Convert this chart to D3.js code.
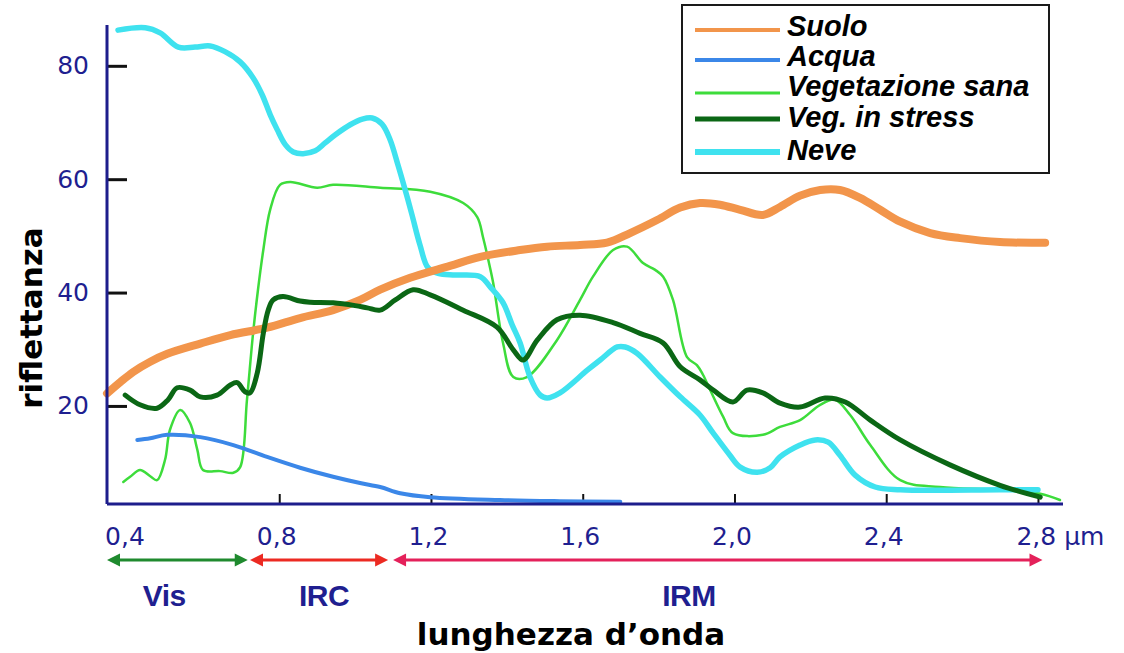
<!DOCTYPE html>
<html>
<head>
<meta charset="utf-8">
<script src="https://cdn.jsdelivr.net/npm/d3@7"></script>
<style>
  body { margin: 0; background: #fff; }
</style>
</head>
<body>
<div id="chart"></div>
<script>
// DATA  (wavelength in µm, reflectance in %)
var suolo = [
  [0.346, 22.2], [0.381, 24.2], [0.415, 26.0], [0.460, 27.8], [0.505, 29.2], [0.592, 31.0],
  [0.671, 32.5], [0.768, 33.8], [0.855, 35.5], [0.942, 36.9], [1.013, 38.7], [1.066, 40.5],
  [1.145, 42.6], [1.250, 44.7], [1.330, 46.3], [1.435, 47.5], [1.506, 48.1], [1.593, 48.4],
  [1.664, 48.8], [1.725, 50.5], [1.796, 52.8], [1.857, 55.0], [1.909, 55.8], [1.962, 55.5],
  [2.015, 54.6], [2.075, 53.7], [2.120, 55.1], [2.173, 57.1], [2.226, 58.1], [2.278, 58.1],
  [2.331, 56.7], [2.384, 54.6], [2.437, 52.5], [2.516, 50.5], [2.595, 49.6], [2.700, 48.9],
  [2.819, 48.8]
];

var acqua = [
  [0.426, 14.0], [0.460, 14.3], [0.505, 14.9], [0.592, 14.5], [0.679, 13.1], [0.768, 11.0],
  [0.855, 9.1], [0.942, 7.5], [1.013, 6.4], [1.066, 5.7], [1.119, 4.6], [1.198, 3.9],
  [1.382, 3.4], [1.540, 3.2], [1.699, 3.1]
];

var vegSana = [
  [0.389, 6.6], [0.407, 7.5], [0.433, 8.7], [0.460, 7.6], [0.478, 6.9], [0.499, 10.5],
  [0.512, 15.8], [0.539, 19.3], [0.565, 17.0], [0.584, 12.3], [0.599, 8.7], [0.644, 8.5],
  [0.679, 8.2], [0.697, 9.2], [0.715, 21.1], [0.731, 32.8], [0.744, 40.5], [0.758, 47.5],
  [0.776, 54.6], [0.802, 59.0], [0.829, 59.5], [0.900, 58.5], [0.942, 59.0], [1.066, 58.5],
  [1.198, 57.8], [1.285, 55.8], [1.322, 53.3], [1.337, 49.8], [1.351, 45.8], [1.364, 41.7],
  [1.390, 31.1], [1.417, 25.1], [1.453, 25.1], [1.532, 31.6], [1.593, 38.7], [1.627, 42.8],
  [1.680, 47.5], [1.717, 48.1], [1.759, 45.2], [1.791, 44.0], [1.812, 42.8], [1.838, 38.7],
  [1.875, 28.6], [1.901, 27.2], [1.917, 25.5], [1.936, 22.8], [1.970, 18.1], [1.996, 15.2],
  [2.075, 14.9], [2.120, 16.3], [2.173, 17.5], [2.226, 20.2], [2.265, 21.1], [2.305, 18.4],
  [2.358, 13.1], [2.437, 6.9], [2.542, 5.7], [2.700, 5.2], [2.806, 4.5], [2.858, 3.4]
];

var vegStress = [
  [0.394, 21.9], [0.433, 20.2], [0.478, 19.6], [0.507, 21.1], [0.531, 23.2], [0.565, 22.8],
  [0.592, 21.6], [0.636, 21.9], [0.671, 23.7], [0.689, 24.1], [0.710, 22.5], [0.723, 22.3],
  [0.742, 25.8], [0.758, 32.8], [0.771, 36.9], [0.784, 38.7], [0.810, 39.3], [0.855, 38.5],
  [0.882, 38.3], [0.942, 38.2], [1.000, 37.7], [1.032, 37.3], [1.066, 36.9], [1.106, 38.7],
  [1.153, 40.5], [1.198, 39.6], [1.285, 36.9], [1.374, 33.9], [1.417, 29.9], [1.443, 28.1],
  [1.480, 31.6], [1.532, 35.2], [1.593, 36.0], [1.680, 34.7], [1.751, 32.8], [1.812, 31.1],
  [1.857, 26.9], [1.909, 24.6], [1.944, 22.8], [1.996, 20.7], [2.033, 22.8], [2.075, 22.3],
  [2.120, 20.5], [2.173, 19.8], [2.239, 21.4], [2.292, 20.7], [2.358, 17.5], [2.437, 14.0],
  [2.568, 9.6], [2.700, 6.0], [2.806, 3.9]
];

var neve = [
  [0.375, 86.3], [0.447, 86.7], [0.486, 85.8], [0.534, 83.3], [0.578, 83.3], [0.618, 83.5],
  [0.657, 82.5], [0.697, 80.7], [0.731, 77.9], [0.755, 74.9], [0.776, 71.4], [0.795, 68.7],
  [0.816, 66.1], [0.837, 64.8], [0.863, 64.5], [0.895, 65.0], [0.921, 66.4], [0.947, 67.8],
  [0.987, 69.6], [1.019, 70.6], [1.045, 70.8], [1.071, 69.7], [1.092, 67.0], [1.113, 62.5],
  [1.132, 58.1], [1.150, 53.7], [1.171, 48.4], [1.192, 44.4], [1.219, 43.4], [1.264, 43.1],
  [1.330, 42.8], [1.356, 41.0], [1.390, 38.2], [1.414, 34.3], [1.435, 31.1], [1.461, 25.1],
  [1.488, 21.9], [1.506, 21.4], [1.540, 22.3], [1.612, 26.3], [1.646, 28.1], [1.691, 30.4],
  [1.712, 30.4], [1.743, 29.3], [1.804, 25.1], [1.857, 21.6], [1.909, 18.4], [1.944, 15.2],
  [1.988, 11.3], [2.015, 9.2], [2.060, 8.3], [2.094, 9.1], [2.120, 11.0], [2.173, 13.1],
  [2.213, 14.0], [2.247, 13.6], [2.278, 11.3], [2.318, 7.8], [2.371, 5.7], [2.437, 5.2],
  [2.700, 5.2], [2.800, 5.2]
];

var xTickValues = [ 0.4, 0.8, 1.2, 1.6, 2.0, 2.4, 2.8 ];
var yTickValues = [ 20, 40, 60, 80 ];

var bandNames = [ 'Vis', 'IRC', 'IRM' ];
var bandFrom = [ 0.346, 0.723, 1.100 ];
var bandTo = [ 0.717, 1.087, 2.812 ];
var bandLabelAt = [ 0.497, 0.918, 1.880 ];

var legendNames = [ 'Suolo', 'Acqua', 'Vegetazione sana', 'Veg. in stress', 'Neve' ];

// STYLE
var width = 1124;
var height = 653;
var axisColor = '#1d1d8c';
var textBlue = '#1f1f90';

var series = [
  { name: 'Vegetazione sana', values: vegSana, color: '#3ddc3b', stroke: 2.5, legendStroke: 3 },
  { name: 'Acqua', values: acqua, color: '#3b87e8', stroke: 4, legendStroke: 4 },
  { name: 'Neve', values: neve, color: '#3fe2ef', stroke: 5.5, legendStroke: 6 },
  { name: 'Suolo', values: suolo, color: '#f2954b', stroke: 8, legendStroke: 4 },
  { name: 'Veg. in stress', values: vegStress, color: '#0b6715', stroke: 5, legendStroke: 5 }
];

var bandColors = [ '#1f8a2e', '#ec2a22', '#e4215a' ];

var svg = d3.select('#chart')
  .append('svg')
  .attr('width', width)
  .attr('height', height)
  .style('background', '#fff');

var x = d3.scaleLinear().domain([ 0.346, 2.866 ]).range([ 107, 1063 ]);
var y = d3.scaleLinear().domain([ 2.7, 87.2 ]).range([ 504, 25 ]);

var itFormat = d3.formatLocale({ decimal: ',', thousands: '.', grouping: [ 3 ], currency: [ '', '€' ] }).format('.1f');

// axes
var xAxis = svg.append('g')
  .attr('transform', 'translate(0,504)')
  .call(d3.axisBottom(x)
    .tickValues(xTickValues)
    .tickSizeInner(-10)
    .tickSizeOuter(0)
    .tickPadding(23)
    .tickFormat(itFormat));

xAxis.select('.domain').remove();
xAxis.selectAll('.tick line')
  .attr('stroke', '#111')
  .attr('stroke-width', 2)
  .filter(function(d) { return d < 0.6; })
  .remove();
xAxis.selectAll('.tick text')
  .attr('x', -3)
  .attr('fill', textBlue)
  .attr('font-family', 'DejaVu Sans, sans-serif')
  .attr('font-size', 25);
xAxis.selectAll('.tick text')
  .filter(function(d) { return d === 2.8; })
  .attr('text-anchor', 'start')
  .attr('x', -22)
  .text(function(d) { return itFormat(d) + ' µm'; });

var yAxis = svg.append('g')
  .attr('transform', 'translate(107,0)')
  .call(d3.axisLeft(y)
    .tickValues(yTickValues)
    .tickSizeInner(-20)
    .tickSizeOuter(0)
    .tickPadding(18)
    .tickFormat(d3.format('d')));

yAxis.select('.domain').remove();
yAxis.selectAll('.tick line')
  .attr('stroke', '#111')
  .attr('stroke-width', 3);
yAxis.selectAll('.tick text')
  .attr('x', -18)
  .attr('text-anchor', 'end')
  .attr('fill', textBlue)
  .attr('font-family', 'DejaVu Sans, sans-serif')
  .attr('font-size', 25);

// curves
var line = d3.line()
  .x(function(d) { return x(d[0]); })
  .y(function(d) { return y(d[1]); })
  .curve(d3.curveCatmullRom.alpha(0.5));

svg.selectAll('.curve')
  .data(series)
  .enter()
  .append('path')
  .attr('class', 'curve')
  .attr('fill', 'none')
  .attr('stroke', function(d) { return d.color; })
  .attr('stroke-width', function(d) { return d.stroke; })
  .attr('stroke-linejoin', 'round')
  .attr('stroke-linecap', 'round')
  .attr('d', function(d) { return line(d.values); });

// axis lines on top
svg.append('line')
  .attr('x1', 107).attr('x2', 107)
  .attr('y1', y.range()[1]).attr('y2', y.range()[0])
  .attr('stroke', axisColor).attr('stroke-width', 3);
svg.append('line')
  .attr('x1', x.range()[0]).attr('x2', x.range()[1])
  .attr('y1', 504).attr('y2', 504)
  .attr('stroke', axisColor).attr('stroke-width', 3);

// spectral bands
var arrowY = 560;
bandNames.forEach(function(name, i) {
  var x0 = x(bandFrom[i]);
  var x1 = x(bandTo[i]);
  var col = bandColors[i];
  svg.append('line')
    .attr('x1', x0 + 6).attr('x2', x1 - 6)
    .attr('y1', arrowY).attr('y2', arrowY)
    .attr('stroke', col).attr('stroke-width', 3);
  svg.append('path')
    .attr('d', 'M' + x0 + ',' + arrowY + 'l13,-6.5v13z')
    .attr('fill', col);
  svg.append('path')
    .attr('d', 'M' + x1 + ',' + arrowY + 'l-13,-6.5v13z')
    .attr('fill', col);
  svg.append('text')
    .attr('x', x(bandLabelAt[i]))
    .attr('y', 606)
    .attr('text-anchor', 'middle')
    .attr('font-family', 'Liberation Sans, Arial, sans-serif')
    .attr('font-weight', 'bold')
    .attr('font-size', 30)
    .attr('letter-spacing', -0.5)
    .attr('fill', textBlue)
    .text(name);
});

// axis titles
svg.append('text')
  .attr('transform', 'translate(42,318) rotate(-90)')
  .attr('text-anchor', 'middle')
  .attr('font-family', 'DejaVu Sans, sans-serif')
  .attr('font-weight', 'bold')
  .attr('font-size', 31)
  .attr('fill', '#000')
  .text('riflettanza');

svg.append('text')
  .attr('x', 571)
  .attr('y', 645)
  .attr('text-anchor', 'middle')
  .attr('font-family', 'DejaVu Sans, sans-serif')
  .attr('font-weight', 'bold')
  .attr('font-size', 31)
  .attr('fill', '#000')
  .text('lunghezza d’onda');

// legend
var legendLineY = [ 30, 60, 93, 119, 152 ];
var legendTextY = [ 36, 66, 96, 127, 160 ];
var legend = svg.append('g');
legend.append('rect')
  .attr('x', 682).attr('y', 5)
  .attr('width', 367).attr('height', 168)
  .attr('fill', '#fff')
  .attr('stroke', '#1a1a1a')
  .attr('stroke-width', 2);

legendNames.forEach(function(name, i) {
  var s = series.filter(function(d) { return d.name === name; })[0];
  legend.append('line')
    .attr('x1', 695).attr('x2', 780)
    .attr('y1', legendLineY[i]).attr('y2', legendLineY[i])
    .attr('stroke', s.color)
    .attr('stroke-width', s.legendStroke);
  legend.append('text')
    .attr('x', 787)
    .attr('y', legendTextY[i])
    .attr('font-family', 'Liberation Sans, Arial, sans-serif')
    .attr('font-weight', 'bold')
    .attr('font-style', 'italic')
    .attr('font-size', 29)
    .attr('fill', '#000')
    .text(name);
});
</script>
</body>
</html>
